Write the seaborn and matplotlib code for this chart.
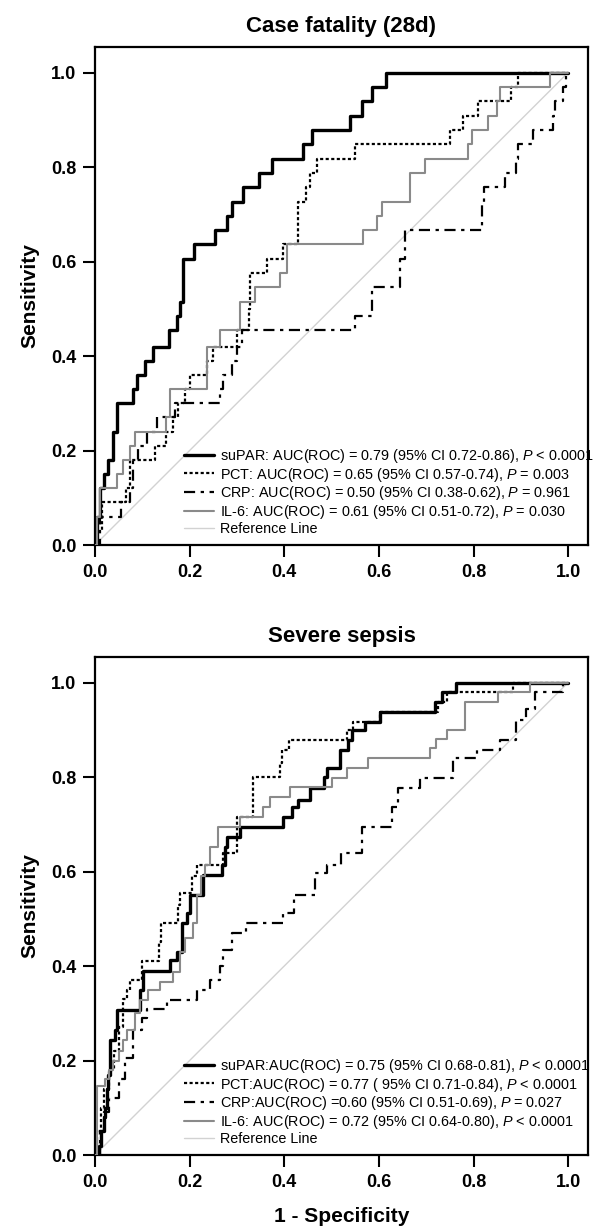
import matplotlib
matplotlib.use("Agg")
import matplotlib.pyplot as plt
import seaborn as sns
import pandas as pd

# ---------------- data (ROC step vertices: fpr, tpr) ----------------
# Panel 1: Case fatality (28d)
sup1_x = [0, 0.004, 0.011, 0.019, 0.028, 0.037, 0.046, 0.081, 0.088, 0.106, 0.122, 0.156, 0.174, 0.180,
          0.185, 0.21, 0.254, 0.28, 0.29, 0.313, 0.347, 0.374, 0.44, 0.459, 0.54, 0.564, 0.585, 0.615, 1.0]
sup1_y = [0, 0.06, 0.12, 0.15, 0.18, 0.24, 0.30, 0.33, 0.36, 0.39, 0.42, 0.455, 0.485, 0.515,
          0.606, 0.636, 0.667, 0.697, 0.727, 0.758, 0.788, 0.818, 0.848, 0.879, 0.909, 0.939, 0.97, 1.0, 1.0]
pct1_x = [0, 0.005, 0.014, 0.065, 0.075, 0.127, 0.15, 0.165, 0.175, 0.19, 0.20, 0.236, 0.25, 0.30,
          0.325, 0.328, 0.363, 0.398, 0.43, 0.447, 0.455, 0.469, 0.55, 0.75, 0.778, 0.81, 0.88, 0.895, 1.0]
pct1_y = [0, 0.03, 0.09, 0.12, 0.18, 0.21, 0.24, 0.27, 0.30, 0.33, 0.36, 0.39, 0.42, 0.455,
          0.50, 0.576, 0.606, 0.636, 0.727, 0.758, 0.788, 0.818, 0.848, 0.879, 0.909, 0.939, 0.97, 1.0, 1.0]
crp1_x = [0, 0.01, 0.056, 0.075, 0.08, 0.09, 0.11, 0.13, 0.17, 0.264, 0.27, 0.29, 0.30, 0.31, 0.55,
          0.585, 0.645, 0.655, 0.817, 0.822, 0.867, 0.89, 0.894, 0.926, 0.968, 0.972, 0.99, 0.995, 1.0]
crp1_y = [0, 0.06, 0.09, 0.12, 0.18, 0.21, 0.24, 0.27, 0.30, 0.33, 0.36, 0.39, 0.42, 0.455, 0.485,
          0.545, 0.606, 0.667, 0.727, 0.758, 0.788, 0.818, 0.848, 0.879, 0.909, 0.939, 0.97, 1.0, 1.0]
il61_x = [0, 0.005, 0.01, 0.046, 0.06, 0.075, 0.085, 0.15, 0.159, 0.236, 0.264, 0.307, 0.338, 0.39,
          0.405, 0.566, 0.595, 0.606, 0.666, 0.698, 0.789, 0.796, 0.831, 0.849, 0.856, 0.962, 1.0]
il61_y = [0, 0.06, 0.12, 0.15, 0.18, 0.21, 0.24, 0.27, 0.33, 0.42, 0.455, 0.515, 0.545, 0.576,
          0.636, 0.667, 0.697, 0.727, 0.788, 0.818, 0.848, 0.879, 0.909, 0.939, 0.97, 1.0, 1.0]

# Panel 2: Severe sepsis
sup2_x = [0, 0.008, 0.012, 0.018, 0.021, 0.025, 0.028, 0.032, 0.042, 0.046, 0.095, 0.102, 0.159, 0.173,
          0.183, 0.194, 0.2, 0.229, 0.268, 0.275, 0.278, 0.307, 0.398, 0.416, 0.43, 0.455, 0.483, 0.49,
          0.518, 0.535, 0.543, 0.571, 0.603, 0.719, 0.733, 0.762, 1.0]
sup2_y = [0, 0.02, 0.05, 0.08, 0.10, 0.14, 0.17, 0.243, 0.265, 0.307, 0.35, 0.39, 0.413, 0.43,
          0.49, 0.512, 0.55, 0.593, 0.614, 0.652, 0.674, 0.695, 0.716, 0.737, 0.751, 0.777, 0.80, 0.82,
          0.857, 0.878, 0.90, 0.917, 0.938, 0.959, 0.98, 1.0, 1.0]
pct2_x = [0, 0.005, 0.012, 0.02, 0.03, 0.04, 0.05, 0.06, 0.067, 0.075, 0.10, 0.135, 0.14, 0.175, 0.18,
          0.205, 0.215, 0.27, 0.30, 0.335, 0.39, 0.395, 0.41, 0.532, 0.545, 0.603, 0.725, 0.745, 0.884, 1.0]
pct2_y = [0, 0.05, 0.10, 0.14, 0.18, 0.22, 0.27, 0.33, 0.35, 0.37, 0.41, 0.45, 0.49, 0.53, 0.554,
          0.59, 0.614, 0.639, 0.716, 0.80, 0.83, 0.857, 0.878, 0.90, 0.917, 0.938, 0.959, 0.98, 1.0, 1.0]
crp2_x = [0, 0.01, 0.02, 0.03, 0.05, 0.063, 0.08, 0.10, 0.11, 0.152, 0.215, 0.243, 0.264, 0.27, 0.29,
          0.32, 0.398, 0.42, 0.465, 0.49, 0.52, 0.565, 0.627, 0.64, 0.687, 0.757, 0.807, 0.856, 0.89,
          0.91, 0.93, 0.99, 1.0]
crp2_y = [0, 0.05, 0.09, 0.12, 0.16, 0.205, 0.265, 0.29, 0.31, 0.328, 0.35, 0.37, 0.40, 0.434, 0.47,
          0.49, 0.512, 0.55, 0.597, 0.614, 0.64, 0.695, 0.737, 0.777, 0.798, 0.84, 0.857, 0.878, 0.92,
          0.945, 0.98, 1.0, 1.0]
il62_x = [0, 0.004, 0.021, 0.03, 0.038, 0.05, 0.06, 0.067, 0.085, 0.095, 0.112, 0.137, 0.165, 0.18,
          0.19, 0.207, 0.215, 0.225, 0.233, 0.243, 0.26, 0.307, 0.355, 0.37, 0.412, 0.50, 0.532, 0.577,
          0.708, 0.72, 0.744, 0.782, 0.852, 0.92, 1.0]
il62_y = [0, 0.145, 0.16, 0.18, 0.20, 0.22, 0.243, 0.265, 0.30, 0.328, 0.349, 0.367, 0.388, 0.43,
          0.46, 0.49, 0.55, 0.59, 0.614, 0.652, 0.695, 0.716, 0.737, 0.758, 0.779, 0.798, 0.819, 0.84,
          0.861, 0.88, 0.90, 0.959, 0.98, 1.0, 1.0]

ref_x = [0.0, 1.0]
ref_y = [0.0, 1.0]

titles = ["Case fatality (28d)", "Severe sepsis"]
labels1 = ["suPAR: AUC(ROC) = 0.79 (95% CI 0.72-0.86), $P$ < 0.0001",
           "PCT: AUC(ROC) = 0.65 (95% CI 0.57-0.74), $P$ = 0.003",
           "CRP: AUC(ROC) = 0.50 (95% CI 0.38-0.62), $P$ = 0.961",
           "IL-6: AUC(ROC) = 0.61 (95% CI 0.51-0.72), $P$ = 0.030",
           "Reference Line"]
labels2 = ["suPAR:AUC(ROC) = 0.75 (95% CI 0.68-0.81), $P$ < 0.0001",
           "PCT:AUC(ROC) = 0.77 ( 95% CI 0.71-0.84), $P$ < 0.0001",
           "CRP:AUC(ROC) =0.60 (95% CI 0.51-0.69), $P$ = 0.027",
           "IL-6: AUC(ROC) = 0.72 (95% CI 0.64-0.80), $P$ < 0.0001",
           "Reference Line"]
ticks = [0.0, 0.2, 0.4, 0.6, 0.8, 1.0]
tick_labels = ["0.0", "0.2", "0.4", "0.6", "0.8", "1.0"]

# ---------------- styling ----------------
sns.set_style("white")
plt.rcParams["font.family"] = ["Liberation Sans", "DejaVu Sans"]
plt.rcParams["mathtext.fontset"] = "custom"
plt.rcParams["mathtext.it"] = "Liberation Sans:italic"
plt.rcParams["mathtext.rm"] = "Liberation Sans"
for k in ["text.color", "axes.labelcolor", "xtick.color", "ytick.color", "axes.edgecolor"]:
    plt.rcParams[k] = "black"

styles = [
    dict(color="black", lw=2.4, ls="-"),
    dict(color="black", lw=1.6, ls=(0, (1.4, 1.1))),
    dict(color="black", lw=1.6, ls=(0, (5, 2.5, 1.5, 2.5))),
    dict(color="#8a8a8a", lw=1.5, ls="-"),
]

W, H = 593, 1228
fig = plt.figure(figsize=(W / 100, H / 100), dpi=100)
ax1 = fig.add_axes([95 / W, (H - 545) / H, 493 / W, 498 / H])
ax2 = fig.add_axes([95 / W, (H - 1155) / H, 493 / W, 498 / H])

panels = [
    (ax1, [(sup1_x, sup1_y), (pct1_x, pct1_y), (crp1_x, crp1_y), (il61_x, il61_y)], labels1, titles[0]),
    (ax2, [(sup2_x, sup2_y), (pct2_x, pct2_y), (crp2_x, crp2_y), (il62_x, il62_y)], labels2, titles[1]),
]

for ax, series, labels, title in panels:
    for (xs, ys), st, lab in zip(series, styles, labels[:4]):
        df = pd.DataFrame({"fpr": xs, "tpr": ys})
        sns.lineplot(data=df, x="fpr", y="tpr", ax=ax, estimator=None, sort=False,
                     drawstyle="steps-post", color=st["color"], linewidth=st["lw"],
                     linestyle=st["ls"], label=lab, zorder=3)
    dref = pd.DataFrame({"fpr": ref_x, "tpr": ref_y})
    sns.lineplot(data=dref, x="fpr", y="tpr", ax=ax, estimator=None, sort=False,
                 color="#d2d2d2", linewidth=1.0, label=labels[4], zorder=2)

    ax.set_xlim(0, 1.042)
    ax.set_ylim(0, 1.054)
    ax.set_xticks(ticks)
    ax.set_xticklabels(tick_labels, fontsize=13, fontweight="bold")
    ax.set_yticks(ticks)
    ax.set_yticklabels(tick_labels, fontsize=13, fontweight="bold")
    ax.tick_params(axis="both", direction="out", length=8.5, width=1.5, color="black", pad=5,
                   bottom=True, left=True)
    for sp in ax.spines.values():
        sp.set_visible(True)
        sp.set_color("black")
        sp.set_linewidth(1.6)
    ax.set_title(title, fontsize=16, fontweight="bold", pad=11)
    ax.set_ylabel("Sensitivity", fontsize=15, fontweight="bold", labelpad=8)
    ax.set_xlabel("")
    leg = ax.legend(loc="lower left", bbox_to_anchor=(0.175, 0.012), frameon=False,
                    fontsize=10.4, handlelength=2.1, handletextpad=0.35, labelspacing=0.06,
                    borderpad=0.2, borderaxespad=0)

ax2.set_xlabel("1 - Specificity", fontsize=15, fontweight="bold", labelpad=12)

fig.savefig("out.png", dpi=100, facecolor="white")
